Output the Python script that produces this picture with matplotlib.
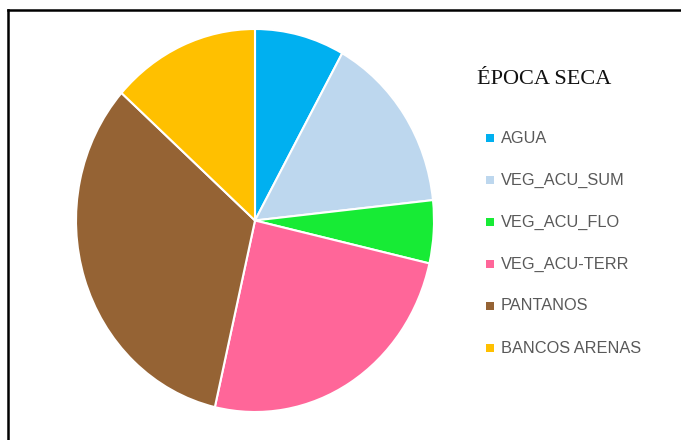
import matplotlib.pyplot as plt
from matplotlib.patches import Rectangle
from matplotlib.lines import Line2D

# Cobertura del suelo en época seca (%)
categorias = ["AGUA", "VEG_ACU_SUM", "VEG_ACU_FLO", "VEG_ACU-TERR", "PANTANOS", "BANCOS ARENAS"]
porcentajes = [8.1, 15.2, 5.3, 25.0, 33.0, 13.4]
colores = ["#00B0F0", "#BDD7EE", "#17EB35", "#FF6699", "#956334", "#FFC000"]

fig = plt.figure(figsize=(6.81, 4.40), dpi=100)

# Pastel (ligeramente estirado en vertical)
ax = fig.add_axes([76 / 681, 28 / 440, 358 / 681, 383 / 440])
ax.pie(porcentajes, colors=colores, startangle=90, counterclock=False,
       wedgeprops=dict(edgecolor="white", linewidth=1.5))
ax.set_aspect("auto")
ax.set_xlim(-1.0, 1.0)
ax.set_ylim(-1.0, 1.0)
ax.axis("off")

# Título de la leyenda
fig.text(477 / 681, 1 - 79 / 440, "ÉPOCA SECA", family="Liberation Serif",
         fontsize=16, color="#111111", va="center", ha="left")

# Leyenda manual
y0, paso = 138, 42
for i, (cat, col) in enumerate(zip(categorias, colores)):
    y = y0 + i * paso
    fig.patches.append(Rectangle((486 / 681, 1 - (y + 4) / 440), 8 / 681, 8 / 440,
                                 transform=fig.transFigure, facecolor=col,
                                 edgecolor="none"))
    fig.text(501 / 681, 1 - y / 440, cat, family="Liberation Sans",
             fontsize=11.8, color="#595959", va="center", ha="left")

# Marco superior e izquierdo
fig.add_artist(Line2D([8 / 681, 1], [1 - 10 / 440, 1 - 10 / 440], color="black", linewidth=1.8))
fig.add_artist(Line2D([8 / 681, 8 / 681], [0, 1 - 10 / 440], color="black", linewidth=1.8))

fig.savefig("out.png", dpi=100)
